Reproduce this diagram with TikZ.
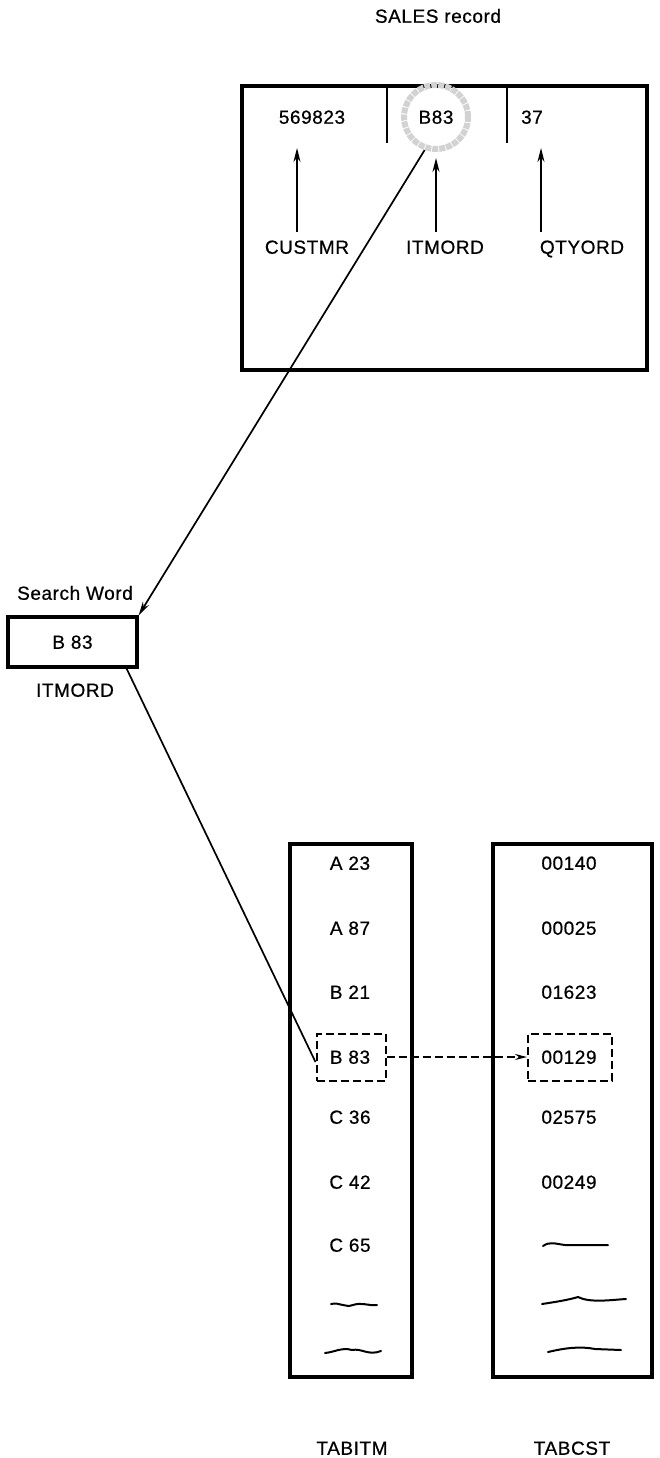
\documentclass[tikz,border=0pt]{standalone}
\usepackage{fontspec}
\setmainfont{Liberation Sans}[LetterSpace=3,FakeBold=0.6]
\usetikzlibrary{positioning,arrows.meta}
\tikzset{
  bigbox/.style={draw,line width=3.2pt},
  fld/.style={font=\fontsize{19}{21}\selectfont,inner sep=0pt,text height=13.5pt,text depth=0pt},
  lbl/.style={fld,inner ysep=8pt},
  ptr/.style={line width=1.7pt,-{Stealth[length=14pt,width=7pt]}},
  link/.style={line width=1.7pt},
  hit/.style={draw,line width=2pt,dash pattern=on 8pt off 4pt,minimum width=69pt,minimum height=47pt},
  squig/.style={line width=2pt,line cap=round},
  every picture/.style={x=1pt,y=-1pt}
}

\begin{document}
\begin{tikzpicture}
  \useasboundingbox (0,0) rectangle (659,1458);
  % SALES record
  \node[fld] (title) at (438,16) {SALES record};
  \node[bigbox,minimum width=405pt,minimum height=284pt] (rec) at (444.5,228) {};
  \draw[line width=1.8pt] (387,86) -- (387,143);
  \draw[line width=1.8pt] (507,86) -- (507,143);
  \node[circle,draw=gray!35,line width=6pt,densely dotted,minimum size=64pt] (ring) at (436,117) {};
  \node[fld] (cust) at (312,117) {569823};
  \node[fld] (item) at (436,117) {B83};
  \node[fld] (qty)  at (532,117) {37};
  \node[lbl] (lcust) at (307,247) {CUSTMR};
  \node[lbl] (litem) at (445,247) {ITMORD};
  \node[lbl] (lqty)  at (582,247) {QTYORD};
  \coordinate (pcust) at (297,148);
  \coordinate (pitem) at (436,158);
  \coordinate (pqty)  at (541,148);
  \draw[ptr] (lcust.north -| pcust) -- (pcust);
  \draw[ptr] (litem.north -| pitem) -- (pitem);
  \draw[ptr] (lqty.north -| pqty) -- (pqty);
  % search word
  \node[fld] (swlab) at (75,593) {Search Word};
  \node[bigbox,fld,minimum width=129pt,minimum height=50pt] (sw) at (72.5,642) {B 83};
  \node[fld] (swname) at (75,690) {ITMORD};
  \draw[ptr] (ring.251) -- (sw.north east);
  % tables
  \node[bigbox,minimum width=122pt,minimum height=533pt] (tabitm) at (351,1110.5) {};
  \node[bigbox,minimum width=159pt,minimum height=533pt] (tabcst) at (572.5,1110.5) {};
  \foreach \k/\y/\ia/\ca in {1/863/A 23/00140,2/928/A 87/00025,3/992/B 21/01623,
      4/1057/B 83/00129,5/1117/C 36/02575,6/1182/C 42/00249}{
    \node[fld] (it\k) at (350,\y) {\ia};
    \node[fld] (cs\k) at (569,\y) {\ca};
  }
  \node[fld] (it7) at (350,1245) {C 65};
  \node[hit] (hitA) at (351,1057) {};
  \node[hit,minimum width=84pt] (hitB) at (570,1057) {};
  \draw[link,dash pattern=on 8pt off 4pt,-{Stealth[length=12pt,width=6pt]}] (hitA.east) -- (hitB.west);
  \draw[link] ([xshift=-12pt]sw.south east) -- ([yshift=-5pt]hitA.west);
  % unlisted entries
  \draw[squig] (543,1246) .. controls (550,1241) and (556,1244) .. (565,1245) -- (608,1245);
  \draw[squig] (331,1304) .. controls (340,1302) and (345,1308) .. (353,1305)
    .. controls (362,1302) and (368,1306) .. (377,1305);
  \draw[squig] (325,1353) .. controls (335,1352) and (342,1347) .. (352,1350)
    .. controls (362,1348) and (368,1356) .. (381,1351);
  \draw[squig] (542,1304) .. controls (555,1302) and (568,1300) .. (578,1297)
    .. controls (590,1303) and (610,1300) .. (626,1299);
  \draw[squig] (548,1352) .. controls (565,1348) and (580,1346) .. (595,1349) -- (621,1350);
  \node[fld] (nitm) at (352,1448) {TABITM};
  \node[fld] (ncst) at (572,1448) {TABCST};
\end{tikzpicture}
\end{document}
